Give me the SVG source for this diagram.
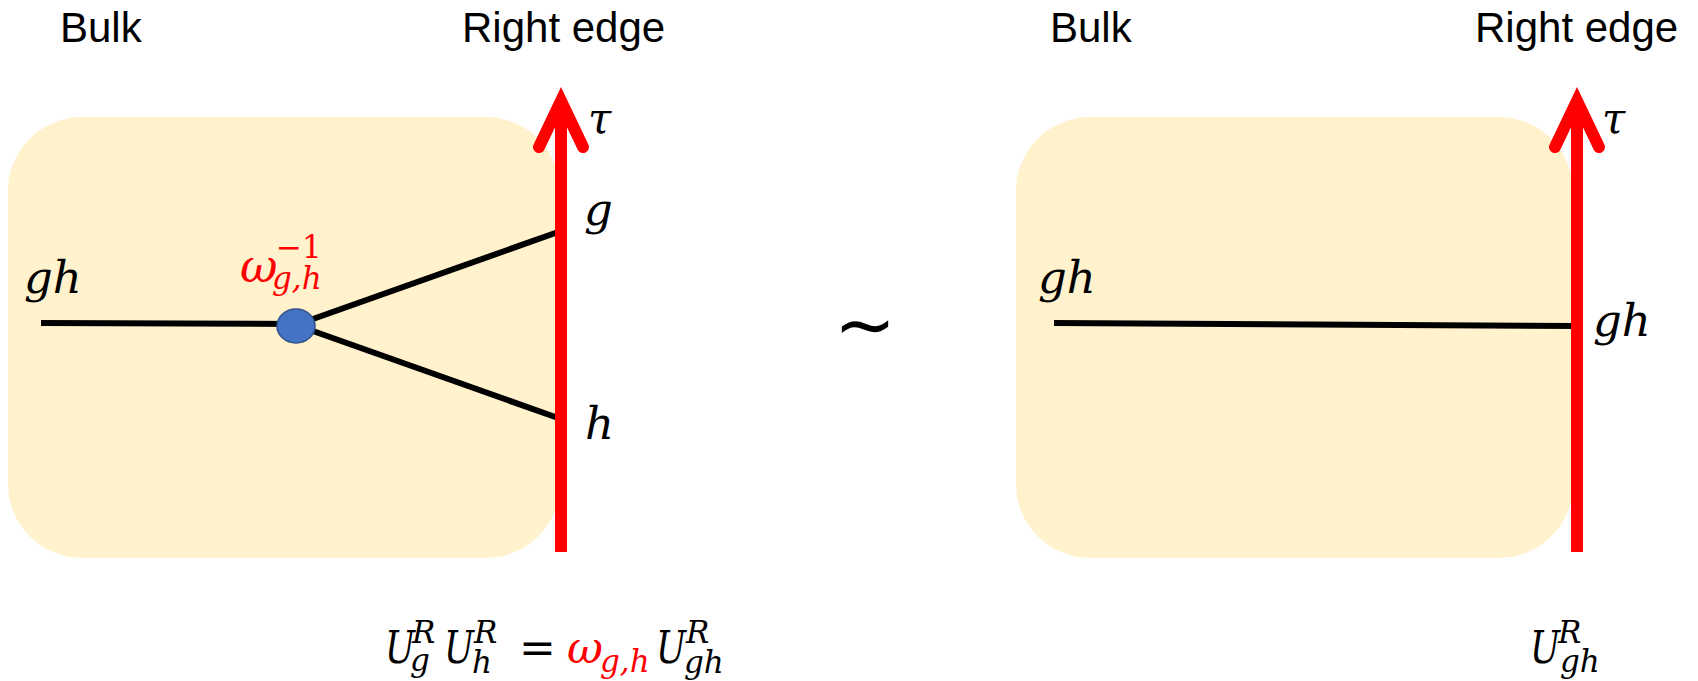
<svg xmlns="http://www.w3.org/2000/svg" width="1698" height="681" viewBox="0 0 1698 681">
<style>
.hdr{font-family:"Liberation Sans",Arial,sans-serif;font-size:42px;fill:#000}
.m{font-family:"DejaVu Serif","Liberation Serif",serif;font-style:italic;fill:#000}
.up{font-family:"DejaVu Serif","Liberation Serif",serif;font-style:normal}
.red{fill:#FF0000}
.box{fill:#FFF2CC}
.wire{stroke:#000;stroke-width:6;fill:none}
.edge{stroke:#FF0000;stroke-width:12;fill:none}
.head{stroke:#FF0000;stroke-width:12;fill:none;stroke-linecap:round;stroke-linejoin:miter}
</style>
<rect width="1698" height="681" fill="#fff"/>

<g id="left-panel">
  <g id="left-bulk"><rect class="box" x="8" y="117" width="552" height="441" rx="74" ry="74"/></g>
  <text class="hdr" x="60" y="42">Bulk</text>
  <text class="hdr" x="462" y="42">Right edge</text>
</g>

<g id="right-panel">
  <g id="right-bulk"><rect class="box" x="1016" y="117" width="557" height="441" rx="74" ry="74"/></g>
  <text class="hdr" x="1050" y="42">Bulk</text>
  <text class="hdr" x="1475" y="42">Right edge</text>
</g>

<g id="connectors">
  <line class="wire" x1="41" y1="323" x2="296" y2="324"/>
  <line class="wire" x1="296" y1="325" x2="561" y2="231"/>
  <line class="wire" x1="296" y1="325" x2="561" y2="419"/>
  <line class="wire" x1="1054" y1="323" x2="1577" y2="326"/>
</g>

<g id="left-edge">
  <line class="edge" x1="561" y1="106" x2="561" y2="552"/>
  <path class="head" d="M539,147 L561,101 L583,147"/>
  <text class="m" font-size="42" x="588" y="133">τ</text>
  <text class="m" font-size="45" x="584" y="225">g</text>
  <text class="m" font-size="45" x="585" y="439">h</text>
</g>

<g id="right-edge">
  <line class="edge" x1="1577" y1="106" x2="1577" y2="552"/>
  <path class="head" d="M1555,147 L1577,101 L1599,147"/>
  <text class="m" font-size="42" x="1602" y="133">τ</text>
  <text class="m" font-size="45" x="1593" y="336">gh</text>
</g>

<g id="left-labels">
  <text class="m" font-size="45" x="24" y="293">gh</text>
  <text class="m red" font-size="46"><tspan x="240" y="282">ω</tspan><tspan class="up" font-size="31" x="276" y="258">−1</tspan><tspan font-size="31" x="272" y="289">g,h</tspan></text>
</g>

<g id="node-omega">
  <ellipse cx="296" cy="326" rx="19" ry="17" fill="#4472C4" stroke="#2F528F" stroke-width="1.5"/>
</g>

<g id="right-labels">
  <text class="m" font-size="45" x="1038" y="293">gh</text>
</g>

<g id="tilde">
  <text font-family="DejaVu Sans,sans-serif" font-size="74" x="834" y="350">∼</text>
</g>

<g id="formula-left">
  <text class="m" font-size="44"><tspan x="385" y="663" textLength="30" lengthAdjust="spacingAndGlyphs">U</tspan><tspan font-size="31" x="412" y="643">R</tspan><tspan font-size="31" x="410" y="671">g</tspan><tspan x="444" y="663" textLength="30" lengthAdjust="spacingAndGlyphs">U</tspan><tspan font-size="31" x="474" y="643">R</tspan><tspan font-size="31" x="472" y="673">h</tspan><tspan class="up" x="519" y="663">=</tspan><tspan class="red" x="567" y="663">ω</tspan><tspan class="red" font-size="31" x="600" y="672">g,h</tspan><tspan x="656" y="663" textLength="30" lengthAdjust="spacingAndGlyphs">U</tspan><tspan font-size="31" x="686" y="643">R</tspan><tspan font-size="31" x="684" y="673">gh</tspan></text>
</g>

<g id="formula-right">
  <text class="m" font-size="44"><tspan x="1530" y="663" textLength="30" lengthAdjust="spacingAndGlyphs">U</tspan><tspan font-size="31" x="1558" y="643">R</tspan><tspan font-size="31" x="1560" y="672">gh</tspan></text>
</g>
</svg>
